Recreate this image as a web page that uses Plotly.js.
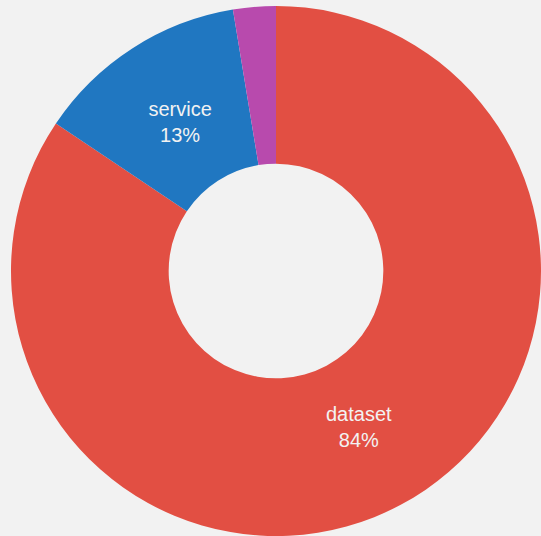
<!DOCTYPE html>
<html>
<head>
<meta charset="utf-8">
<script src="https://cdn.plot.ly/plotly-3.0.1.min.js"></script>
<style>
html,body{margin:0;padding:0;background:#f2f2f2;overflow:hidden;}
#chart{width:541px;height:536px;}
</style>
</head>
<body>
<div id="chart"></div>
<script>
const labels = ["dataset", "service", "other"];
const values = [84.4, 13.0, 2.6];
const colors = ["#e24f43", "#2077c1", "#b84aad"];
const textPositions = ["inside", "inside", "none"];

const common = {
  type: "pie",
  labels: labels,
  values: values,
  sort: true,
  direction: "clockwise",
  rotation: 0,
  hoverinfo: "none"
};

Plotly.newPlot("chart", [
  Object.assign({}, common, {
    domain: {x: [0, 1], y: [0, 1]},
    hole: 0.405,
    marker: {colors: colors, line: {width: 0}},
    textinfo: "none"
  }),
  // transparent overlay carrying the slice labels, slightly inset
  Object.assign({}, common, {
    domain: {x: [0.033, 0.967], y: [0.033, 0.967]},
    hole: 0.425,
    marker: {colors: ["rgba(0,0,0,0)", "rgba(0,0,0,0)", "rgba(0,0,0,0)"], line: {width: 0}},
    texttemplate: "%{label}<br>%{percent:.0%}",
    textposition: textPositions,
    insidetextorientation: "horizontal",
    textfont: {family: "Liberation Sans, Arial, sans-serif", size: 20, color: "#f2f2f2"}
  })
], {
  width: 541,
  height: 536,
  margin: {l: 11, r: 0, t: 6, b: 0, pad: 0},
  paper_bgcolor: "#f2f2f2",
  plot_bgcolor: "#f2f2f2",
  showlegend: false
}, {staticPlot: true, displayModeBar: false});
</script>
</body>
</html>
